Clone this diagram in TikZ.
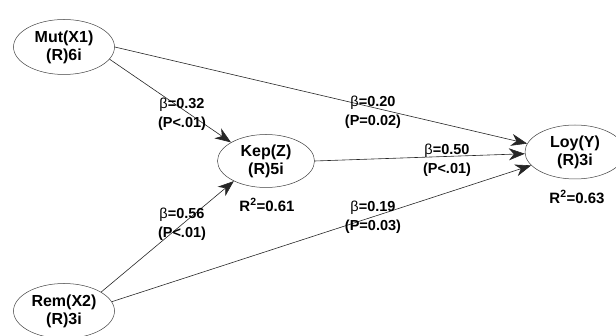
\documentclass[tikz,border=0pt]{standalone}
\usepackage{fontspec}
\setmainfont{Liberation Sans}
\usetikzlibrary{shapes.geometric,arrows.meta}

\begin{document}
\begin{tikzpicture}[x=1pt,y=-1pt,
	lv/.style={ellipse,draw=black!75,line width=.5pt,inner sep=0pt,minimum width=101pt,minimum height=55pt,align=center,font=\fontsize{16}{18}\selectfont\bfseries},
	pth/.style={draw=black!85,line width=.6pt,-{Stealth[length=16pt,width=12pt,inset=5pt]}},
	coef/.style={align=center,inner sep=0pt,font=\fontsize{14.5}{19}\selectfont\bfseries},
	rsq/.style={inner sep=0pt,font=\fontsize{15}{17}\selectfont\bfseries}]
		\useasboundingbox (0,0) rectangle (616,336);
		\node[lv] (mut) at (64,47) {Mut(X1)\\(R)6i};
		\node[lv] (rem) at (64,311) {Rem(X2)\\(R)3i};
		\node[lv,minimum width=97pt,minimum height=53pt] (kep) at (266,161) {Kep(Z)\\(R)5i};
		\node[lv,minimum width=100pt,minimum height=54pt] (loy) at (575,152) {Loy(Y)\\(R)3i};
		\node[rsq] (r61) at (267,205) {R\textsuperscript{2}=0.61};
		\node[rsq] (r63) at (577,197) {R\textsuperscript{2}=0.63};
		\draw[pth] (mut.-15)--(kep.152);
		\draw[pth] (mut.0)--(loy.170);
		\draw[pth] (rem.27)--(kep.212);
		\draw[pth] (rem.11)--(loy.197);
		\draw[pth] (kep.0)--(loy.182);
		\node[coef] (c32) at (182,114) {{\mdseries β}=0.32\\(P<.01)};
		\node[coef] (c20) at (373,112) {{\mdseries β}=0.20\\(P=0.02)};
		\node[coef] (c56) at (182,224) {{\mdseries β}=0.56\\(P<.01)};
		\node[coef] (c50) at (447,160) {{\mdseries β}=0.50\\(P<.01)};
		\node[coef] (c19) at (373,217) {{\mdseries β}=0.19\\(P=0.03)};
\end{tikzpicture}
\end{document}
